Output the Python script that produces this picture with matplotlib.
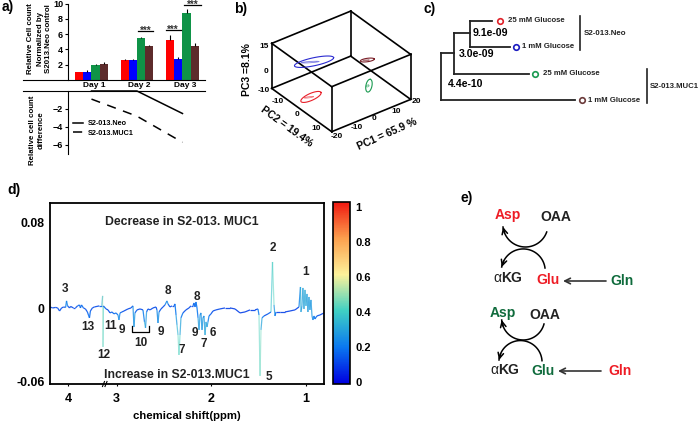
import numpy as np
import matplotlib
matplotlib.use("Agg")
import matplotlib.pyplot as plt
from matplotlib.collections import LineCollection
from matplotlib.cm import ScalarMappable
from matplotlib.colors import LinearSegmentedColormap, Normalize

plt.rcParams["font.family"] = ["Liberation Sans", "DejaVu Sans"]
plt.rcParams["font.weight"] = "bold"

W, H = 700, 422

# a) cell counts
days = ["Day 1", "Day 2", "Day 3"]
count_red = [1.0, 2.6, 5.2]
count_blue = [1.0, 2.6, 2.8]
count_green = [2.0, 5.5, 8.7]
count_brown = [2.05, 4.5, 4.4]
err_red = [0.1, 0.15, 0.65]
err_blue = [0.25, 0.15, 0.2]
err_green = [0.15, 0.15, 0.6]
err_brown = [0.3, 0.1, 0.5]
diff_neo = [0.0, 0.0, -2.5]
diff_muc1 = [-0.9, -2.8, -5.7]

# b) PCA scores
pc1_lim = [-20, 20]
pc2_lim = [-15, 15]
pc3_lim = [-10, 15]
score_pc1 = [-15, -10, 10, 10]
score_pc2 = [-0.3, -3.7, 4, 3.2]
score_pc3 = [-5.2, 9.4, -6.7, 6.9]
score_colors = ["#e8202a", "#2a2ad0", "#1a9a50", "#7a1f28"]

# c) tree
leaf_names = ["25 mM Glucose", "1 mM Glucose", "25 mM Glucose", "1 mM Glucose"]
leaf_ends = [492, 510, 529, 575]
leaf_rows = [20.7, 47, 73.5, 100]
leaf_colors = ["#e02028", "#1a1ac0", "#1a9a50", "#6b3a3a"]

# d) difference spectrum, ppm / intensity / correlation
ppm = [4.194, 4.162, 4.130, 4.109, 4.088, 4.067, 4.045, 4.024, 4.014, 4.003,
       3.982, 3.971, 3.940, 3.919, 3.897, 3.876, 3.866, 3.855, 3.834, 3.813,
       3.792, 3.781, 3.770, 3.760, 3.739, 3.718, 3.665, 3.638, 3.630, 3.626,
       3.622, 3.113, 3.092, 3.071, 3.050, 3.029, 3.008, 2.986, 2.976, 2.965,
       2.944, 2.923, 2.881, 2.849, 2.828, 2.817, 2.807, 2.785, 2.753, 2.722,
       2.706, 2.695, 2.684, 2.669, 2.647, 2.616, 2.584, 2.574, 2.563, 2.552,
       2.531, 2.510, 2.489, 2.468, 2.457, 2.436, 2.415, 2.394, 2.383, 2.372,
       2.362, 2.351, 2.341, 2.330, 2.320, 2.299, 2.267, 2.235, 2.214, 2.193,
       2.182, 2.171, 2.161, 2.150, 2.139, 2.129, 2.118, 2.108, 2.097, 2.087,
       2.076, 2.065, 2.055, 2.044, 2.034, 2.023, 2.002, 1.981, 1.949, 1.907,
       1.854, 1.801, 1.748, 1.695, 1.642, 1.589, 1.536, 1.505, 1.494, 1.483,
       1.473, 1.462, 1.441, 1.399, 1.367, 1.351, 1.335, 1.325, 1.314, 1.272,
       1.219, 1.166, 1.113, 1.071, 1.055, 1.050, 1.039, 1.029, 1.018, 1.007,
       0.997, 0.986, 0.976, 0.965, 0.955, 0.944, 0.933, 0.923, 0.912, 0.902,
       0.881, 0.849, 0.806]
intensity = [.0018, .0009, .0014, .0009, -.0017, .0009, .0018, .0014, .0074, .0028,
             .0009, .0023, .0009, .0009, .0028, .0037, .0009, .0037, .0009, 0,
             -.0025, -.005, -.0074, -.0017, .0009, .0018, .0028, .0028, .012, -.0314,
             .0028, 0, -.0008, -.0033, -.0025, -.0041, -.0033, -.005, -.0091, -.0033,
             -.0025, -.0017, 0, .0009, .0028, -.0149, -.0033, -.0008, 0, -.0008,
             -.0107, -.0157, -.0025, 0, -.0008, .0009, .0018, -.0008, -.0116, -.0025,
             0, .0018, .0037, .0074, .0046, .0018, .0028, .0028, .0046, -.005,
             -.0132, -.0215, -.038, -.0215, -.0074, -.0033, -.0008, .0009, .0028, .0028,
             .0055, .0018, .0064, .0009, -.0074, -.0173, -.005, -.0033, -.0173, -.0074,
             -.0058, -.0215, -.0107, -.0149, -.0107, -.0058, -.0041, -.0017, -.0008, 0,
             .0009, .0009, 0, -.0033, -.0025, -.0008, -.0008, 0, -.005, -.0553,
             -.0173, -.0074, -.0058, -.0041, -.0025, .0432, .0037, -.0058, -.0025, -.0025,
             -.0025, -.0017, -.0008, .0018, .0202, -.0025, .0028, .0193, 0, .0175,
             .0028, .0138, -.0025, .011, -.0008, .0083, -.0058, -.0091, -.0058, -.0083,
             -.0058, -.005, -.0033]
corr = [.12, .12, .12, .12, .15, .12, .12, .15, .3, .15,
        .12, .12, .12, .12, .15, .2, .15, .2, .15, .12,
        .15, .18, .2, .15, .12, .12, .12, .2, .45, .6,
        .2, .12, .12, .15, .15, .18, .18, .2, .3, .18,
        .15, .12, .12, .12, .15, .35, .2, .12, .12, .12,
        .3, .35, .2, .12, .12, .12, .12, .15, .33, .18,
        .12, .12, .15, .3, .2, .12, .12, .12, .15, .25,
        .3, .38, .48, .35, .25, .15, .12, .12, .12, .12,
        .2, .15, .22, .15, .25, .33, .22, .2, .33, .22,
        .2, .36, .28, .3, .25, .18, .15, .12, .12, .12,
        .1, .1, .1, .1, .1, .1, .1, .12, .3, .55,
        .35, .25, .15, .12, .2, .55, .3, .25, .12, .1,
        .1, .1, .1, .12, .35, .3, .25, .35, .25, .35,
        .28, .33, .25, .33, .25, .3, .25, .25, .2, .2,
        .15, .12, .1]
peak_labels = ["3", "13", "11", "9", "10", "9", "8", "7", "8", "9", "7", "6", "12", "2", "1", "5"]
cbar_ticks = [0, 0.2, 0.4, 0.6, 0.8, 1]
GREEN = "#0f6b3c"
RED = "#ee1c25"
corr_cmap = LinearSegmentedColormap.from_list(
    "corr", ["#0000e0", "#0a78f0", "#3fd0c4", "#fdf29a", "#fca04e", "#f01810"])


def px_axes(fig, left, top, right, bottom, **kw):
    # axes from pixel box, y counted from the top of the image
    return fig.add_axes([left / W, 1 - bottom / H, (right - left) / W, (bottom - top) / H], **kw)


def project(p1, p2, p3):
    # oblique view of the PCA box, gives image pixels
    u = (np.asarray(p1, float) - pc1_lim[0]) / 40
    v = (np.asarray(p2, float) - pc2_lim[1]) / 30
    w = (np.asarray(p3, float) - pc3_lim[0]) / 25
    x = 331.7 + 79 * u + 60 * v
    y = 131.7 - 32.3 * u + 43.3 * v - 45 * w
    return x, y


def draw_ellipse(ax, cx, cy, a, b, angle, color):
    t = np.linspace(0, 2 * np.pi, 80)
    rad = np.deg2rad(angle)
    ex = a * np.cos(t) * np.cos(rad) - b * np.sin(t) * np.sin(rad)
    ey = a * np.cos(t) * np.sin(rad) + b * np.sin(t) * np.cos(rad)
    ax.plot(cx + ex, cy - ey, color=color, lw=0.8)
    ax.plot(cx + 0.45 * ex - a * 0.2, cy - 0.15 * ey + b * 0.1, color=color, lw=0.6, alpha=0.6)


def curved(ax, start, mid, end):
    # circular arc through three points, arrow head on the end point
    (x1, y1), (x2, y2), (x3, y3) = start, mid, end
    d = 2 * (x1 * (y2 - y3) + x2 * (y3 - y1) + x3 * (y1 - y2))
    cx = ((x1**2 + y1**2) * (y2 - y3) + (x2**2 + y2**2) * (y3 - y1) + (x3**2 + y3**2) * (y1 - y2)) / d
    cy = ((x1**2 + y1**2) * (x3 - x2) + (x2**2 + y2**2) * (x1 - x3) + (x3**2 + y3**2) * (x2 - x1)) / d
    r = np.hypot(x1 - cx, y1 - cy)
    a1 = np.arctan2(y1 - cy, x1 - cx)
    am = np.arctan2(y2 - cy, x2 - cx)
    a3 = np.arctan2(y3 - cy, x3 - cx)
    # pick the way round that passes the middle point
    a3 = a1 + (a3 - a1) % (2 * np.pi)
    am = a1 + (am - a1) % (2 * np.pi)
    if am > a3:
        a3 -= 2 * np.pi
    t = np.linspace(a1, a3, 40)
    ax_x, ax_y = cx + r * np.cos(t), cy + r * np.sin(t)
    ax.plot(ax_x, ax_y, color="black", lw=1.1)
    ax.annotate("", xy=(ax_x[-1], ax_y[-1]), xytext=(ax_x[-5], ax_y[-5]),
                arrowprops=dict(arrowstyle="->", lw=1.1, color="black", shrinkA=0, shrinkB=0, mutation_scale=10))


fig = plt.figure(figsize=(7, 4.22), dpi=100)

# a) bars
ax_bar = px_axes(fig, 23, 3.5, 205, 80)
x = np.arange(3)
bar_w = 0.18
groups = [(count_red, err_red, "#ff0000"), (count_blue, err_blue, "#0000ff"),
          (count_green, err_green, "#0f9347"), (count_brown, err_brown, "#5d2b2b")]
for i, (vals, errs, col) in enumerate(groups):
    ax_bar.bar(x + (i - 1.5) * bar_w, vals, bar_w, color=col, yerr=[[0] * 3, errs],
               error_kw=dict(ecolor="black", lw=0.8, capsize=0))
ax_bar.set_xlim(-1.505, 2.495)
ax_bar.set_ylim(0, 10)
ax_bar.spines["top"].set_visible(False)
ax_bar.spines["right"].set_visible(False)
ax_bar.spines["left"].set_position(("data", -0.516))
ax_bar.set_yticks([2, 4, 6, 8, 10])
ax_bar.set_xticks(x + 0.06)
ax_bar.set_xticklabels(days, fontsize=6)
ax_bar.tick_params(axis="x", length=0, pad=1.5)
ax_bar.tick_params(axis="y", labelsize=6.5, length=2, pad=1.5)
for x0, x1, level in [(1.02, 1.35, 6.4), (1.63, 1.96, 6.6), (2.03, 2.41, 9.8)]:
    ax_bar.plot([x0, x1], [level, level], color="black", lw=0.9, clip_on=False)
    ax_bar.text((x0 + x1) / 2, level, "***", ha="center", va="center", fontsize=7, clip_on=False,
                color="#333333")

# a) difference lines
ax_diff = px_axes(fig, 23, 91, 205, 154)
ax_diff.plot(x, diff_neo, color="black", lw=1.1, label="S2-013.Neo", clip_on=False)
ax_diff.plot(x, diff_muc1, color="black", lw=1.1, ls=(0, (6, 5)), label="S2-013.MUC1")
ax_diff.set_xlim(-1.505, 2.495)
ax_diff.set_ylim(-7, 0)
ax_diff.spines["bottom"].set_visible(False)
ax_diff.spines["right"].set_visible(False)
ax_diff.spines["left"].set_position(("data", -0.516))
ax_diff.set_xticks([])
ax_diff.set_yticks([-2, -4, -6])
ax_diff.tick_params(axis="y", labelsize=6.5, length=2, pad=1.5)
ax_diff.legend(loc="upper left", bbox_to_anchor=(0.275, 0.54), frameon=False, fontsize=5.2,
               handlelength=1.4, handletextpad=0.6, labelspacing=0.35, borderpad=0, borderaxespad=0)

# d) spectrum
ax_nmr = px_axes(fig, 50, 203, 324, 384)
xp = [0.806, 3.127, 3.61, 4.19]
fp = [0, 219.3, 219.5, 274]
neg = 1212 / 1087.5


def fwd_x(v):
    return np.interp(v, xp, fp)


def inv_x(v):
    return np.interp(v, fp, xp)


def fwd_y(v):
    v = np.asarray(v, float)
    return np.where(v < 0, v * neg, v)


def inv_y(v):
    v = np.asarray(v, float)
    return np.where(v < 0, v / neg, v)


ax_nmr.set_xscale("function", functions=(fwd_x, inv_x))
ax_nmr.set_yscale("function", functions=(fwd_y, inv_y))
points = np.column_stack([ppm, intensity])
segments = np.stack([points[:-1], points[1:]], axis=1)
norm = Normalize(-0.01, 1.03)
seg_corr = (np.array(corr[:-1]) + np.array(corr[1:])) / 2
seg_colors = corr_cmap(norm(seg_corr))
# tall narrow peaks look washed out in the original
seg_colors[:, 3] = np.clip(1.2 - 1.6 * seg_corr, 0.35, 0.9)
lc = LineCollection(segments, colors=seg_colors, linewidths=0.9)
ax_nmr.add_collection(lc)
ax_nmr.set_xlim(4.19, 0.806)
ax_nmr.set_ylim(-0.062, 0.0975)
ax_nmr.set_xticks([4, 3, 2, 1])
ax_nmr.set_xticklabels(["4", "3", "2", "1"])
ax_nmr.set_yticks([0.08, 0, -0.06])
ax_nmr.set_yticklabels(["0.08", "0", "-0.06"])
ax_nmr.minorticks_off()
ax_nmr.tick_params(axis="x", labelsize=9, length=1.5, pad=5)
ax_nmr.tick_params(axis="y", labelsize=8.8, length=0, pad=4)
for s in ax_nmr.spines.values():
    s.set_linewidth(1.3)
ax_nmr.set_xlabel("chemical shift(ppm)", fontsize=8.2, fontweight="bold", labelpad=4)

# colour bar
cax = px_axes(fig, 332.5, 202, 350, 383.5)
cb = fig.colorbar(ScalarMappable(norm=norm, cmap=corr_cmap), cax=cax, ticks=cbar_ticks)
cb.ax.set_yticklabels(["0", "0.2", "0.4", "0.6", "0.8", "1"])
cb.ax.tick_params(labelsize=8, length=0, pad=3.6)
cb.outline.set_linewidth(1.2)

# everything placed by image pixels goes on a full page overlay
ov = fig.add_axes([0, 0, 1, 1], zorder=10)
ov.set_xlim(0, W)
ov.set_ylim(H, 0)
ov.axis("off")
ov.patch.set_alpha(0)

for s, px, py in [("a)", 8, 7), ("b)", 241, 9), ("c)", 430, 9), ("d)", 14, 190), ("e)", 467, 198)]:
    ov.text(px, py, s, fontsize=10, ha="center", va="center")
ov.text(31, 39, "Relative Cell count", rotation=90, fontsize=5.7, ha="center", va="center")
ov.text(40, 39, "Normalized by", rotation=90, fontsize=5.7, ha="center", va="center")
ov.text(49, 39, "S2013.Neo control", rotation=90, fontsize=5.7, ha="center", va="center")
ov.text(32, 130, "Relative cell count", rotation=90, fontsize=5.7, ha="center", va="center")
ov.text(41, 130, "difference", rotation=90, fontsize=5.7, ha="center", va="center")

# b) box edges
for a in pc1_lim:
    for b in pc2_lim:
        ov.plot(*project([a, a], [b, b], pc3_lim), color="black", lw=1.2)
for a in pc1_lim:
    for c in pc3_lim:
        ov.plot(*project([a, a], pc2_lim, [c, c]), color="black", lw=1.2)
for b in pc2_lim:
    for c in pc3_lim:
        ov.plot(*project(pc1_lim, [b, b], [c, c]), color="black", lw=1.2)
sx, sy = project(score_pc1, score_pc2, score_pc3)
shapes = [(11, 3.5, 24), (20, 4, 12), (6.5, 3, 78), (7, 1.7, 8)]
for cx, cy, shp, col in zip(sx, sy, shapes, score_colors):
    draw_ellipse(ov, cx, cy, shp[0], shp[1], shp[2], col)
for s, px, py in [("15", 264, 46.7), ("0", 266, 71.7), ("-10", 264, 90),
                  ("-10", 278, 101.7), ("0", 297, 114), ("10", 316, 128),
                  ("-20", 336.7, 136), ("-10", 356.7, 127.7), ("0", 374, 119),
                  ("10", 396, 111.7), ("20", 416.7, 101.7)]:
    ov.text(px, py, s, fontsize=6, ha="center", va="center")
ov.text(246.7, 70, "PC3 =8.1%", rotation=90, fontsize=7.5, ha="center", va="center")
ov.text(286.7, 126.7, "PC2 = 19.4%", rotation=-36, fontsize=7.5, ha="center", va="center")
ov.text(386.7, 134, "PC1 = 65.9 %", rotation=24, fontsize=7.5, ha="center", va="center")

# c) tree
ov.plot([441, 441], [53, 100], color="#222222", lw=1.3)
ov.plot([441, 454], [53, 53], color="#222222", lw=1.3)
ov.plot([441, leaf_ends[3]], [100, 100], color="#222222", lw=1.3)
ov.plot([454, 454], [33, 73.5], color="#222222", lw=1.3)
ov.plot([454, leaf_ends[2]], [73.5, 73.5], color="#222222", lw=1.3)
ov.plot([454, 470], [33, 33], color="#222222", lw=1.3)
ov.plot([470, 470], [20.7, 47], color="#222222", lw=1.3)
ov.plot([470, leaf_ends[0]], [20.7, 20.7], color="#222222", lw=1.3)
ov.plot([470, leaf_ends[1]], [47, 47], color="#222222", lw=1.3)
for end, row, col, name, dot, txt in zip(leaf_ends, leaf_rows, leaf_colors, leaf_names,
                                         [500, 516, 535, 582], [507.7, 521.7, 543.3, 588.3]):
    ov.plot(dot, row, "o", ms=4, mfc="white", mec=col, mew=1.2)
    ov.text(txt, row, name, fontsize=5.6, va="center", color="#222222")
ov.plot([580, 580], [16, 50], color="#222222", lw=1.2)
ov.plot([647.3, 647.3], [69, 103], color="#222222", lw=1.2)
ov.text(584, 33.7, "S2-013.Neo", fontsize=5.7, va="center", color="#222222")
ov.text(650, 87, "S2-013.MUC1", fontsize=5.6, va="center", color="#222222")
ov.text(473, 33, "9.1e-09", fontsize=7.6, va="center")
ov.text(459, 54, "3.0e-09", fontsize=7.6, va="center")
ov.text(448, 84, "4.4e-10", fontsize=7.6, va="center")

# d) labels
label_pos = [(65, 289), (88.3, 327.3), (110.7, 326), (121.7, 330), (140.7, 342.7), (160.7, 332.3),
             (168, 291), (181.3, 350), (197.3, 296.7), (195, 333.3), (204, 344.3), (212.7, 333.3),
             (104, 355), (273.3, 248.3), (305.3, 271.7), (269, 376.7)]
for s, (px, py) in zip(peak_labels, label_pos):
    ov.text(px, py, s, fontsize=8.5, ha="center", va="center", color="#222222")
ov.plot([132.3, 132.3, 149, 149], [325.7, 332, 332, 325.7], color="black", lw=0.9)
ov.text(182, 222, "Decrease in S2-013. MUC1", fontsize=8.8, ha="center", va="center", color="#222222")
ov.text(177, 375, "Increase in S2-013.MUC1", fontsize=8.8, ha="center", va="center", color="#222222")
ov.plot([102.5, 104.5], [386.5, 381.5], color="black", lw=0.8)
ov.plot([105, 107], [386.5, 381.5], color="black", lw=0.8)

# e) transamination scheme
ov.text(507.7, 215, "Asp", color=RED, fontsize=10, ha="center", va="center")
ov.text(556, 217.3, "OAA", fontsize=10, ha="center", va="center", color="#222222")
ov.text(501, 277.7, "\u03b1", fontsize=10, fontweight="normal", ha="right", va="center", color="#222222")
ov.text(501, 277.7, "KG", fontsize=10, ha="left", va="center", color="#222222")
ov.text(548, 280, "Glu", color=RED, fontsize=10, ha="center", va="center")
ov.text(622, 281, "Gln", color=GREEN, fontsize=10, ha="center", va="center")
curved(ov, (546.7, 232), (525, 247), (503, 227))
curved(ov, (545, 268), (525, 249), (501.7, 267))
ov.annotate("", xy=(563, 281), xytext=(606, 281), arrowprops=dict(arrowstyle="->", lw=1.2, color="#333333", shrinkA=0, shrinkB=0))

ov.text(503, 312.7, "Asp", color=GREEN, fontsize=10, ha="center", va="center")
ov.text(545, 315, "OAA", fontsize=10, ha="center", va="center", color="#222222")
ov.text(498, 370, "\u03b1", fontsize=10, fontweight="normal", ha="right", va="center", color="#222222")
ov.text(498, 370, "KG", fontsize=10, ha="left", va="center", color="#222222")
ov.text(543, 370.7, "Glu", color=GREEN, fontsize=10, ha="center", va="center")
ov.text(620, 371, "Gln", color=RED, fontsize=10, ha="center", va="center")
curved(ov, (544, 324), (523, 340), (501.7, 320))
curved(ov, (542, 360.7), (523, 340.7), (499, 360))
ov.annotate("", xy=(558, 371), xytext=(601, 371), arrowprops=dict(arrowstyle="->", lw=1.2, color="#333333", shrinkA=0, shrinkB=0))

fig.savefig("out.png", dpi=100)
